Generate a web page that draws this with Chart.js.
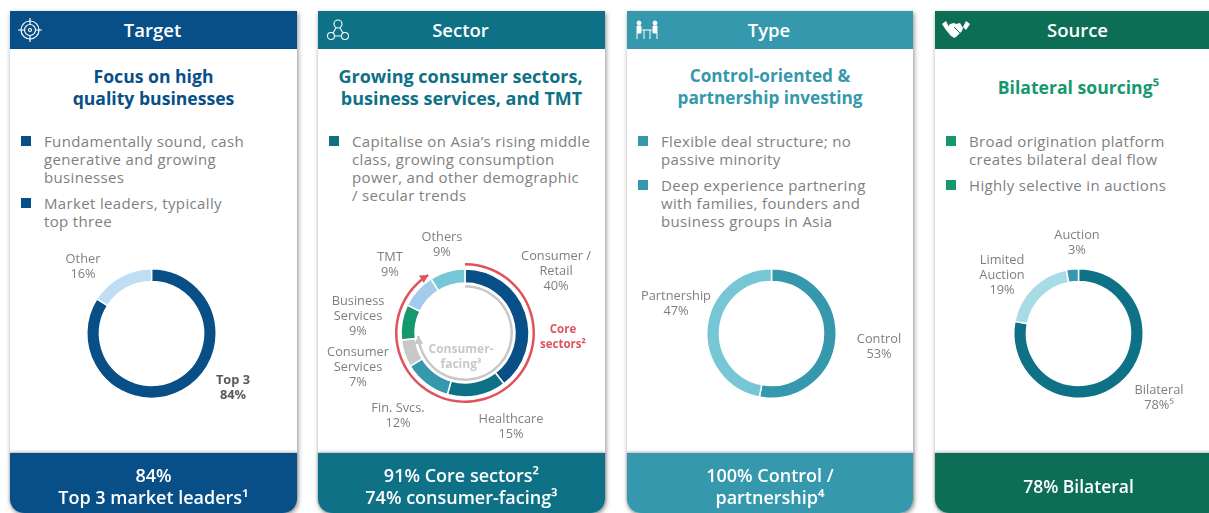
<!DOCTYPE html>
<html>
<head>
<meta charset="utf-8">
<title>Investment strategy</title>
<script src="https://cdn.jsdelivr.net/npm/chart.js@4"></script>
<style>
  html, body { margin: 0; padding: 0; width: 1209px; height: 513px; overflow: hidden; background: #fff; }
  body { font-family: "Open Sans", sans-serif; position: relative; }
  .card { position: absolute; top: 11px; width: 287px; height: 502px; background: #fff; box-shadow: 1px 2px 5px rgba(0,0,0,.45); border-radius: 0 0 14px 14px; }
  .head { position: absolute; left: 0; top: 0; width: 100%; height: 38px; color: #fff; font-size: 18.5px; font-weight: 600; line-height: 38px; text-align: center; text-indent: -2px; }
  .head svg { position: absolute; left: 7px; top: 6px; }
  .title { position: absolute; left: 0; width: 100%; text-align: center; font-size: 17.6px; font-weight: 700; line-height: 22px; }
  .bullets { position: absolute; top: 121px; left: 34px; right: 8px; color: #7f7f7f; font-size: 15px; line-height: 18px; letter-spacing: .35px; }
  .bullets div { position: relative; margin-bottom: 8px; white-space: nowrap; }
  .bullets i { position: absolute; left: -23px; top: 4px; width: 10px; height: 10px; }
  .foot { position: absolute; left: 0; bottom: 0; width: 100%; height: 60px; color: #fff; border-radius: 0 0 14px 14px; text-align: center; font-size: 18px; font-weight: 600; line-height: 22px; display: flex; align-items: center; justify-content: center; box-shadow: 0 -1px 3px rgba(0,0,0,.3); }
  .foot span { position: relative; top: 3px; }
  canvas { position: absolute; left: 0; top: 214px; }
</style>
</head>
<body>

<div class="card" style="left:10px">
  <div class="head" style="background:#084f88">
    <svg width="26" height="26" viewBox="0 0 26 26" fill="none" stroke="#fff" stroke-width="1.2"><circle cx="13" cy="13" r="9"/><circle cx="13" cy="13" r="5.5"/><circle cx="13" cy="13" r="1.5"/><path d="M13 1v7M13 18v7M1 13h7M18 13h7"/></svg>
    Target
  </div>
  <div class="title" style="top:54px;color:#084f88">Focus on high<br>quality businesses</div>
  <div class="bullets">
    <div><i style="background:#084f88"></i>Fundamentally sound, cash<br>generative and growing<br>businesses</div>
    <div><i style="background:#084f88"></i>Market leaders, typically<br>top three</div>
  </div>
  <canvas id="targetChart" width="287" height="228"></canvas>
  <div class="foot" style="background:#084f88"><span>84%<br>Top 3 market leaders¹</span></div>
</div>

<div class="card" style="left:318px">
  <div class="head" style="background:#0e7186">
    <svg width="26" height="26" viewBox="0 0 26 26" fill="none" stroke="#fff" stroke-width="1.1"><circle cx="13" cy="7" r="4"/><circle cx="6" cy="19" r="3.5"/><circle cx="20" cy="19" r="3.5"/><path d="M11 11l-3 5M15 11l3 5M10 19h6"/></svg>
    Sector
  </div>
  <div class="title" style="top:54px;color:#0e7186;font-size:18px;text-indent:-2px">Growing consumer sectors,<br>business services, and TMT</div>
  <div class="bullets">
    <div><i style="background:#0e7186"></i>Capitalise on Asia’s rising middle<br>class, growing consumption<br>power, and other demographic<br>/ secular trends</div>
  </div>
  <canvas id="sectorChart" width="287" height="228"></canvas>
  <div class="foot" style="background:#0e7186"><span>91% Core sectors²<br>74% consumer-facing³</span></div>
</div>

<div class="card" style="left:627px;width:286px">
  <div class="head" style="background:#3598ad">
    <svg width="26" height="26" viewBox="0 0 26 26" fill="#fff" stroke="#fff" stroke-width="1"><circle cx="5" cy="6" r="2"/><circle cx="21" cy="6" r="2"/><path d="M3 9h4v7H3zM19 9h4v7h-4zM8 13h10M10 13v9M16 13v9M3 16v6M23 16v6" /></svg>
    Type
  </div>
  <div class="title" style="top:54px;color:#3598ad;font-size:17.2px">Control-oriented &amp;<br>partnership investing</div>
  <div class="bullets">
    <div><i style="background:#3598ad"></i>Flexible deal structure; no<br>passive minority</div>
    <div><i style="background:#3598ad"></i>Deep experience partnering<br>with families, founders and<br>business groups in Asia</div>
  </div>
  <canvas id="typeChart" width="286" height="228"></canvas>
  <div class="foot" style="background:#3598ad"><span>100% Control /<br>partnership⁴</span></div>
</div>

<div class="card" style="left:935px">
  <div class="head" style="background:#0d6e56">
    <svg width="28" height="26" viewBox="0 0 28 26" fill="#fff"><path d="M0 7l4-3 3 6-3 3zM28 7l-4-3-3 6 3 3zM8 7l4-1 2 1 4-1 3 5-1 3-6 6-2 1-1-1-2-1-5-6z"/><path d="M12 10l3 3 4 4" fill="none" stroke="#0d6e56"/></svg>
    Source
  </div>
  <div class="title" style="top:65px;color:#16986f">Bilateral sourcing⁵</div>
  <div class="bullets">
    <div><i style="background:#16986f"></i>Broad origination platform<br>creates bilateral deal flow</div>
    <div><i style="background:#16986f"></i>Highly selective in auctions</div>
  </div>
  <canvas id="sourceChart" width="287" height="228"></canvas>
  <div class="foot" style="background:#0d6e56;font-size:17.5px"><span>78% Bilateral</span></div>
</div>

<script>
// Values
const targetLabels = [['Top 3'], ['Other']];
const targetValues = [84, 16];
const targetColors = ['#084f88', '#bfddf3'];

const sectorLabels = [['Consumer /', 'Retail'], ['Healthcare'], ['Fin. Svcs.'], ['Consumer', 'Services'], ['Business', 'Services'], ['TMT'], ['Others']];
const sectorValues = [40, 15, 12, 7, 9, 9, 9];
const sectorColors = ['#084f88', '#0e7186', '#3598ad', '#c8c8c8', '#16986f', '#a2cbec', '#77c6d6'];
const coreShare = [91, 9];
const consumerShare = [74, 26];

const typeLabels = [['Control'], ['Partnership']];
const typeValues = [53, 47];
const typeColors = ['#3598ad', '#77c6d6'];

const sourceLabels = [['Bilateral'], ['Limited', 'Auction'], ['Auction']];
const sourceValues = [78, 19, 3];
const sourceSuffix = ['⁵', '', ''];
const sourceColors = ['#0e7186', '#a8dce5', '#3598ad'];

const labelFont = '12.8px "Open Sans", sans-serif';
const labelGrey = '#7f7f7f';
const canvasTop = 225;

// Draws the multi-line slice labels, positions are page coordinates of the first line
const sliceLabels = {
  id: 'sliceLabels',
  afterDraw(chart, args, opts) {
    const ctx = chart.ctx;
    const left = chart.canvas.parentNode.offsetLeft;
    ctx.save();
    ctx.textAlign = 'center';
    ctx.textBaseline = 'middle';
    opts.items.forEach(item => {
      ctx.font = item.font || labelFont;
      ctx.fillStyle = item.color || labelGrey;
      item.lines.forEach((line, i) => {
        ctx.fillText(line, item.at[0] - left, item.at[1] - canvasTop + i * item.gap);
      });
    });
    ctx.restore();
  }
};

// Arrow head with its tip at the end of the first slice of the thin annotation rings
const ringArrows = {
  id: 'ringArrows',
  afterDatasetsDraw(chart, args, opts) {
    const ctx = chart.ctx;
    (opts.rings || []).forEach(ring => {
      const arc = chart.getDatasetMeta(ring.dataset).data[0];
      const p = arc.getProps(['x', 'y', 'endAngle', 'outerRadius', 'innerRadius'], true);
      const r = (p.outerRadius + p.innerRadius) / 2;
      const a = p.endAngle;
      const ex = p.x + Math.cos(a) * r, ey = p.y + Math.sin(a) * r;
      const tx = -Math.sin(a), ty = Math.cos(a);
      const nx = Math.cos(a), ny = Math.sin(a);
      ctx.save();
      ctx.fillStyle = ring.color;
      ctx.beginPath();
      ctx.moveTo(ex, ey);
      ctx.lineTo(ex - tx * 8 + nx * 4.5, ey - ty * 8 + ny * 4.5);
      ctx.lineTo(ex - tx * 8 - nx * 4.5, ey - ty * 8 - ny * 4.5);
      ctx.closePath();
      ctx.fill();
      ctx.restore();
    });
  }
};

function makeLabels(labels, values, positions, gap, suffix) {
  return labels.map((lines, i) => ({
    lines: lines.concat(values[i] + '%' + (suffix ? suffix[i] : '')),
    at: positions[i],
    gap: gap
  }));
}

function ringOptions(padding, cutout, items, rings) {
  return {
    responsive: false,
    animation: false,
    cutout: cutout,
    layout: { padding: padding },
    plugins: {
      legend: { display: false },
      tooltip: { enabled: false },
      sliceLabels: { items: items },
      ringArrows: { rings: rings || [] }
    }
  };
}

const targetItems = makeLabels(targetLabels, targetValues, [[233, 380], [83, 259]], 15);
targetItems[0].font = 'bold 12.8px "Open Sans", sans-serif';
targetItems[0].color = '#595959';

new Chart(document.getElementById('targetChart'), {
  type: 'doughnut',
  data: { labels: targetLabels, datasets: [{ data: targetValues, backgroundColor: targetColors, borderColor: '#fff', borderWidth: 1.5 }] },
  options: ringOptions({ left: 76, right: 80, top: 43, bottom: 54 }, 52, targetItems),
  plugins: [sliceLabels, ringArrows]
});

const sectorItems = makeLabels(sectorLabels, sectorValues,
  [[556, 256], [511, 419], [398, 408], [358, 352], [358, 301], [390, 257], [442, 237]], 15);
sectorItems.push({ lines: ['Core', 'sectors²'], at: [563, 330], gap: 15, font: 'bold 11.5px "Open Sans", sans-serif', color: '#e0525c' });
sectorItems.push({ lines: ['Consumer-', 'facing³'], at: [461, 350], gap: 15, font: 'bold 12px "Open Sans", sans-serif', color: '#c8c8c8' });

// Rings run outside to inside, the transparent ones are only gaps
new Chart(document.getElementById('sectorChart'), {
  type: 'doughnut',
  data: {
    labels: sectorLabels,
    datasets: [
      { data: coreShare, backgroundColor: ['#e0525c', 'transparent'], borderWidth: 0, weight: 2.5 },
      { data: [1], backgroundColor: ['transparent'], borderWidth: 0, weight: 3.5 },
      { data: sectorValues, backgroundColor: sectorColors, borderColor: '#fff', borderWidth: 1.5, weight: 14 },
      { data: [1], backgroundColor: ['transparent'], borderWidth: 0, weight: 2 },
      { data: consumerShare, backgroundColor: ['#c8c8c8', 'transparent'], borderWidth: 0, weight: 2.5 }
    ]
  },
  options: ringOptions({ left: 77, right: 70, top: 38, bottom: 50 }, 45.5, sectorItems, [
    { dataset: 4, color: '#c8c8c8' },
    { dataset: 0, color: '#e0525c' }
  ]),
  plugins: [sliceLabels, ringArrows]
});

new Chart(document.getElementById('typeChart'), {
  type: 'doughnut',
  data: { labels: typeLabels, datasets: [{ data: typeValues, backgroundColor: typeColors, borderColor: '#fff', borderWidth: 1.5 }] },
  options: ringOptions({ left: 79, right: 76, top: 43, bottom: 54 }, 52, makeLabels(typeLabels, typeValues, [[879, 339], [676, 296]], 15)),
  plugins: [sliceLabels, ringArrows]
});

new Chart(document.getElementById('sourceChart'), {
  type: 'doughnut',
  data: { labels: sourceLabels, datasets: [{ data: sourceValues, backgroundColor: sourceColors, borderColor: '#fff', borderWidth: 1.5 }] },
  options: ringOptions({ left: 78, right: 78, top: 43, bottom: 54 }, 52, makeLabels(sourceLabels, sourceValues, [[1159, 390], [1002, 260], [1077, 235]], 15, sourceSuffix)),
  plugins: [sliceLabels, ringArrows]
});
</script>
</body>
</html>
